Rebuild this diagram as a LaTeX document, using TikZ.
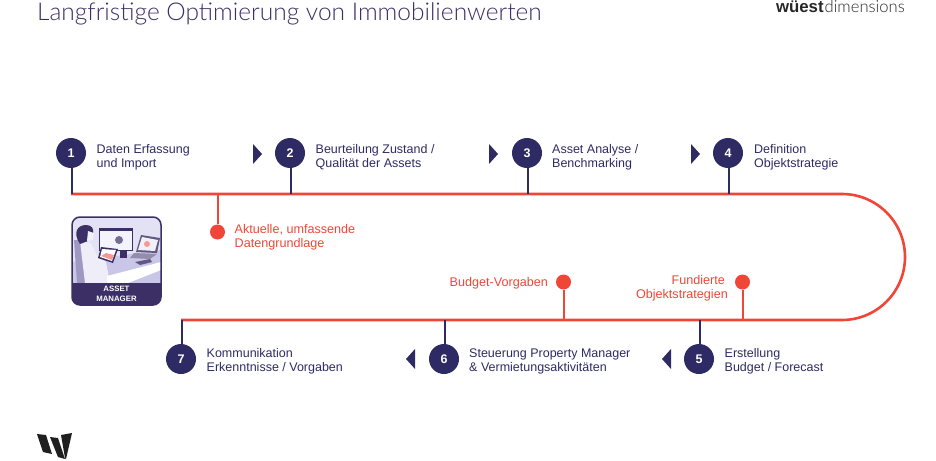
\documentclass[tikz,border=0pt]{standalone}
\usepackage{fontspec}
\setmainfont{Liberation Sans}
\newfontfamily\titlefont{Lato Light}
\definecolor{wdnavy}{HTML}{2E2A64}
\definecolor{wdred}{HTML}{EF4638}
\definecolor{wdlila}{HTML}{C9C6E8}
\definecolor{wdpale}{HTML}{E3E1F4}
\definecolor{wdicon}{HTML}{3B2F66}
\tikzset{
    stepnode/.style={circle,fill=wdnavy,text=white,minimum size=30pt,inner sep=0pt,font=\fontsize{12.5}{12.5}\selectfont\bfseries},
    steptext/.style={anchor=west,align=left,text=wdnavy,inner sep=0pt,font=\fontsize{12.5}{14}\selectfont},
    redtext/.style={align=left,text=wdred,inner sep=0pt,font=\fontsize{12.6}{14}\selectfont},
    reddot/.style={circle,fill=wdred,minimum size=15pt,inner sep=0pt},
    stem/.style={draw=wdnavy,line width=2pt},
    redline/.style={draw=wdred,line width=2.6pt},
    redstem/.style={draw=wdred,line width=2pt},
    pointer/.style={fill=wdnavy}
}
\begin{document}
\begin{tikzpicture}[x=1pt,y=-1pt]
    \useasboundingbox (0,0) rectangle (936,460);

    % header
    \node[anchor=west,inner sep=0pt,text=wdicon,font=\titlefont\fontsize{24.5}{24.5}\selectfont] (title) at (37,14) {Langfristige Optimierung von Immobilienwerten};
    \node[anchor=east,inner sep=0pt,text=black!85,font=\fontsize{16.8}{17}\selectfont] (brand) at (905,7) {\textbf{wüest}\kern1pt{\titlefont\fontsize{16.6}{17}\selectfont dimensions}};

    % main line
    \coordinate (linestart) at (71,194);
    \coordinate (lineend) at (181,320);
    \draw[redline] (linestart) -- (842,194) arc[start angle=-90,end angle=90,radius=63] -- (lineend);

    % stems
    \coordinate (j1) at (71.5,194);
    \coordinate (j2) at (290.5,194);
    \coordinate (j3) at (527.5,194);
    \coordinate (j4) at (728.5,194);
    \coordinate (j5) at (699.5,320);
    \coordinate (j6) at (444.5,320);
    \coordinate (j7) at (181.5,320);

    % steps
    \node[stepnode] (s1) at (71,153) {1};
    \node[stepnode] (s2) at (290,153) {2};
    \node[stepnode] (s3) at (527,153) {3};
    \node[stepnode] (s4) at (728,153) {4};
    \node[stepnode] (s5) at (699,359) {5};
    \node[stepnode] (s6) at (444,359) {6};
    \node[stepnode] (s7) at (181,359) {7};
    \foreach \i in {1,...,4} {
        \draw[stem] (s\i.south -| j\i) -- (j\i);
    }
    \foreach \i in {5,6,7} {
        \draw[stem] (s\i.north -| j\i) -- (j\i);
    }

    \node[steptext] (t1) at (96.5,157.5) {Daten Erfassung\\und Import};
    \node[steptext] (t2) at (315.5,157.5) {Beurteilung Zustand /\\Qualität der Assets};
    \node[steptext] (t3) at (552,157.5) {Asset Analyse /\\Benchmarking};
    \node[steptext] (t4) at (754,157.5) {Definition\\Objektstrategie};
    \node[steptext] (t5) at (724.5,361) {Erstellung\\Budget / Forecast};
    \node[steptext] (t6) at (469,361) {Steuerung Property Manager\\\& Vermietungsaktivitäten};
    \node[steptext] (t7) at (206.5,361) {Kommunikation\\Erkenntnisse / Vorgaben};

    % pointers
    \fill[pointer] (253,144) -- (262,154) -- (253,164) -- cycle;
    \fill[pointer] (489,144) -- (498,154) -- (489,164) -- cycle;
    \fill[pointer] (691,144) -- (700,154) -- (691,164) -- cycle;
    \fill[pointer] (671,349) -- (662,359) -- (671,369) -- cycle;
    \fill[pointer] (415,349) -- (406,359) -- (415,369) -- cycle;

    % red notes
    \node[reddot] (d1) at (217.5,232) {};
    \node[reddot] (d2) at (563.5,282) {};
    \node[reddot] (d3) at (742.5,282) {};
    \coordinate (k1) at (217.5,194);
    \coordinate (k2) at (563.5,320);
    \coordinate (k3) at (742.5,320);
    \foreach \i in {1,2,3} {
        \draw[redstem] (d\i) -- (k\i);
    }
    \node[redtext,anchor=west] (n1) at (234.5,237.5) {Aktuelle, umfassende\\Datengrundlage};
    \node[redtext,anchor=east] (n2) at (548,283) {Budget-Vorgaben};
    \node[redtext,anchor=east,align=right] (n3) at (728,288) {Fundierte\hspace*{3pt}\\Objektstrategien};

    % asset manager icon
    \begin{scope}
        \clip[rounded corners=8pt] (72,217) rectangle (161,305);
        \fill[wdpale] (72,217) rectangle (161,292);
        \fill[wdlila] (72,262) -- (161,250) -- (161,283) -- (72,283) -- cycle;
        % chair and person
        \fill[wdlila!70!wdicon] (74,240) -- (79,240) -- (95,283) -- (77,283) -- cycle;
        \fill[wdpale!60!white] (80,241) .. controls (88,238) and (93,244) .. (96,254) -- (106,262) -- (110,283) -- (85,283) -- cycle;
        \fill[wdicon] (80,244) .. controls (72,232) and (78,225) .. (86,225) .. controls (92,225) and (94,229) .. (93,233) -- (88,241) -- cycle;
        \fill[wdpale!50!white] (88,231) -- (94,233) -- (93,240) -- (87,241) -- cycle;
        % desk
        \fill[white] (107,276) -- (161,262) -- (161,270) -- (128,283) -- (107,283) -- cycle;
        % screen
        \fill[wdicon] (99,228) rectangle (133,251);
        \fill[wdpale!40!white] (100,231) rectangle (132,250);
        \fill[wdicon!70!white] (119,240) circle (4pt);
        \fill[wdicon] (120,251) rectangle (127,258);
        % laptop
        \fill[wdicon!80!white] (141,235) -- (160,238) -- (157,253) -- (136,252) -- cycle;
        \fill[wdpale!50!white] (142,237) -- (158,240) -- (155,251) -- (138,250) -- cycle;
        \fill[wdred!55!white] (147,244) circle (3pt);
        \fill[wdicon!55!white] (134,253) -- (157,254) -- (150,259) -- (130,258) -- cycle;
        \fill[wdicon!80!white] (135,262) -- (150,259) -- (152,262) -- (140,265) -- cycle;
        % tablet
        \fill[wdicon] (101,247) -- (118,249) -- (113,263) -- (98,258) -- cycle;
        \fill[white] (102,249) -- (116,250) -- (112,261) -- (100,257) -- cycle;
        \fill[wdred!55!white] (101,256) -- (106,253) -- (114,255) -- (112,260) -- cycle;
        % band
        \fill[wdicon] (72,283) rectangle (161,305);
    \end{scope}
    \draw[wdicon,line width=1.5pt,rounded corners=8pt] (72,217) rectangle (161,305);
    \node[inner sep=0pt,align=center,text=white,font=\fontsize{7.8}{10}\selectfont\bfseries] (assetmanager) at (116.5,294) {ASSET\\MANAGER};

    % logo
    \fill[black!88] (37,434) -- (46,435) -- (52,454) -- (43,452) -- cycle;
    \fill[black!88] (50,437) -- (58,438) -- (65,459) -- (58,457) -- cycle;
    \fill[black!88] (61,435) -- (72,433) -- (66,459) -- (65,458) -- cycle;
\end{tikzpicture}
\end{document}
